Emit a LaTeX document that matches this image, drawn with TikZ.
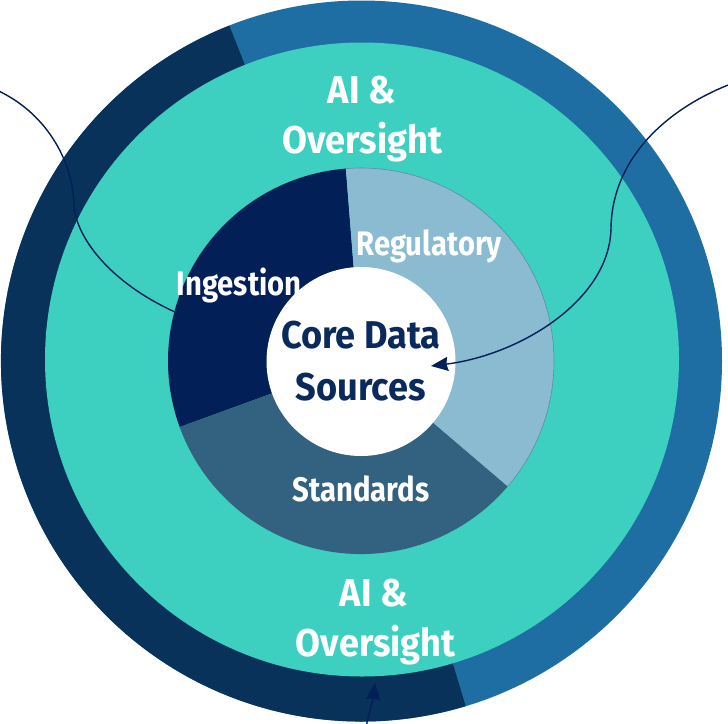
\documentclass[tikz,border=0pt]{standalone}
\usepackage{fontspec}
\setmainfont{Fira Sans}
\newfontfamily\lblfont{Fira Sans}[FakeStretch=0.935]
\newfontfamily\smlfont{Fira Sans}[FakeStretch=0.86]
\usetikzlibrary{arrows.meta}
\definecolor{ringdark}{HTML}{08325A}
\definecolor{ringblue}{HTML}{1E6EA4}
\definecolor{tealc}{HTML}{3DCFBF}
\definecolor{ingc}{HTML}{031F57}
\definecolor{regc}{HTML}{8ABBD1}
\definecolor{stdc}{HTML}{336281}
\definecolor{regedge}{HTML}{5E8DA8}
\definecolor{navytxt}{HTML}{0B2A5C}
\definecolor{linec}{HTML}{031F57}
\begin{document}
\begin{tikzpicture}[x=1pt,y=-1pt,
  bigtxt/.style={font=\lblfont\bfseries\fontsize{38.7}{46}\selectfont, text=white, inner sep=0pt, anchor=base},
  smalltxt/.style={font=\smlfont\bfseries\fontsize{34}{40}\selectfont, text=white, inner sep=0pt, anchor=base},
  coretxt/.style={font=\lblfont\bfseries\fontsize{38.7}{46}\selectfont, text=navytxt, inner sep=0pt, anchor=base},
  conn/.style={draw=linec, line width=1.4pt},
  tip/.style={-{Stealth[length=17pt,width=14pt,inset=1.5pt]}}
]
\useasboundingbox (0,0) rectangle (728,723);
% outer ring
\node[circle, fill=ringblue, minimum size=721pt, inner sep=0pt] (ring) at (361.5,361) {};
\fill[ringdark] (361.5,361) -- ++(-111.5:360.5) arc[start angle=-111.5, end angle=-286.8, radius=360.5] -- cycle;
% teal disc
\node[circle, fill=tealc, minimum size=634pt, inner sep=0pt] (teal) at (362,359.5) {};
% left connector (under the inner donut)
\coordinate (lstart) at (-8,88);
\coordinate (lmid) at (74,205);
\coordinate (ingend) at (182,315);
\draw[conn] (lstart) .. controls (45,110) and (73,160) .. (lmid)
  .. controls (76,240) and (115,287) .. (ingend);
% inner donut
\coordinate (ctr) at (361,361);
\fill[ingc] (ctr) -- ++(-94.5:193) arc[start angle=-94.5, end angle=-200, radius=193] -- cycle;
\fill[stdc] (ctr) -- ++(-200:193) arc[start angle=-200, end angle=-319.5, radius=193] -- cycle;
\fill[regc] (ctr) -- ++(-319.5:193) arc[start angle=-319.5, end angle=-454.5, radius=193] -- cycle;
\draw[regedge, line width=0.6pt] (ctr) ++(-319.5:193) arc[start angle=-319.5, end angle=-454.5, radius=193];
% core circle
\node[circle, fill=white, minimum size=189pt, inner sep=0pt] (core) at (361,361.5) {};
% labels
\node[bigtxt] (ai1) at (361.7,103.3) {AI \&};
\node[bigtxt] (ov1) at (362.5,153.3) {Oversight};
\node[bigtxt] (ai2) at (374,606.7) {AI \&};
\node[bigtxt] (ov2) at (375.8,656.7) {Oversight};
\node[smalltxt] (reg) at (429.2,255) {Regulatory};
\node[smalltxt] (ing) at (239.2,295) {Ingestion};
\node[smalltxt] (std) at (360.8,501.7) {Standards};
\node[coretxt] (core1) at (360.8,348.3) {Core Data};
\node[coretxt] (core2) at (360.8,400) {Sources};
% right connector into the core
\coordinate (rstart) at (736,82);
\coordinate (rmid) at (611,228);
\coordinate (coretip) at (431,366);
\draw[conn, tip] (rstart) .. controls (665,108) and (612,160) .. (rmid)
  .. controls (610,300) and (520,355) .. (coretip);
% bottom connector
\coordinate (bstart) at (365,732);
\coordinate (btip) at (375,682.7);
\draw[conn, tip] (bstart) .. controls (369,712) and (373,700) .. (btip);
\end{tikzpicture}
\end{document}
